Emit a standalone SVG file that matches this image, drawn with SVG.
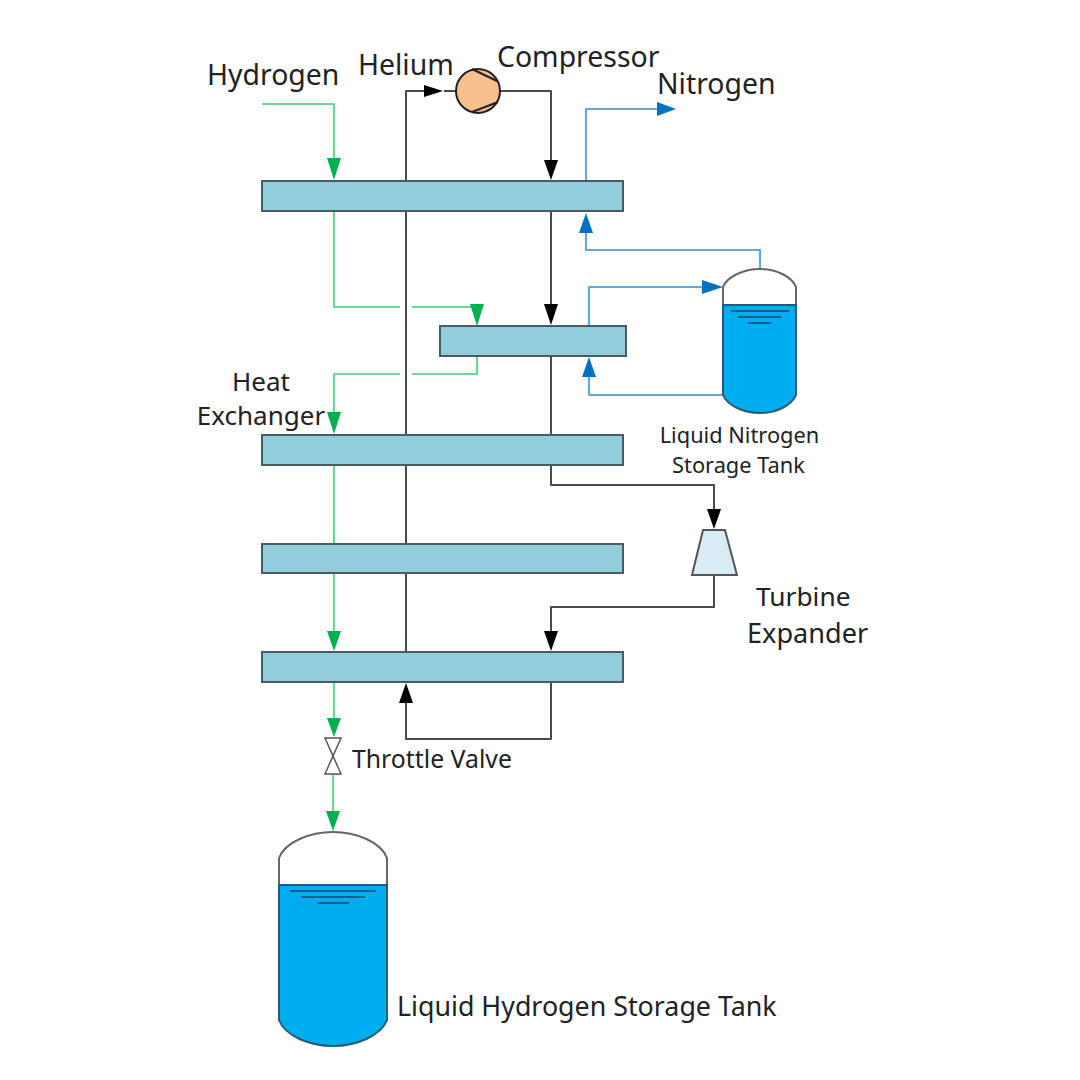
<svg xmlns="http://www.w3.org/2000/svg" width="1080" height="1080" viewBox="0 0 1080 1080">
<style>
text{font-family:"Noto Sans","Open Sans",sans-serif;fill:#222}
.w{fill:none;stroke-linejoin:round}
.k{stroke:#4a4a4a;stroke-width:2}
.g{stroke:#6fd39a;stroke-width:2.2}
.b{stroke:#62a8de;stroke-width:2.2}
.hx{fill:#92cddc;stroke:#4b5b62;stroke-width:2}
.tank{fill:#fff;stroke:#666;stroke-width:2}
.liq{fill:#00aeef;stroke:#2a5a72;stroke-width:2}
.lv{stroke:#0e5f8e;stroke-width:1.8}
.ak{fill:#000}.ag{fill:#00b050}.ab{fill:#0070c0}
</style>
<rect width="1080" height="1080" fill="#fff"/>
<g id="connectors">
<path class="w g" d="M262 104H334V165"/>
<path class="w g" d="M334 212V307H400M412 307H477V310"/>
<path class="w g" d="M477 356V374H412M400 374H334V418"/>
<path class="w g" d="M334 465V633"/>
<path class="w g" d="M334 683V720"/>
<path class="w g" d="M333 775V813"/>
<path class="w k" d="M406 181V91H426"/>
<path class="w k" d="M444 91H456"/>
<path class="w k" d="M500 91H551V160"/>
<path class="w k" d="M406 212V652"/>
<path class="w k" d="M551 212V305"/>
<path class="w k" d="M551 356V435"/>
<path class="w k" d="M551 465V485H714V510"/>
<path class="w k" d="M714 576V607H551V632"/>
<path class="w k" d="M551 683V739H406V700"/>
<path class="w b" d="M586 181V109H660"/>
<path class="w b" d="M586 230V250H760V269"/>
<path class="w b" d="M589 326V287H705"/>
<path class="w b" d="M589 375V395H723"/>
<polygon class="ag" points="327,158 341,158 334,180"/>
<polygon class="ag" points="470,304 484,304 477,326"/>
<polygon class="ag" points="327,412 341,412 334,434"/>
<polygon class="ag" points="327,631 341,631 334,651"/>
<polygon class="ag" points="327,718 341,718 334,737"/>
<polygon class="ag" points="326,811 340,811 333,831"/>
<polygon class="ak" points="424,85 424,97 443,91"/>
<polygon class="ak" points="544,160 558,160 551,180"/>
<polygon class="ak" points="544,304 558,304 551,325"/>
<polygon class="ak" points="707,509 721,509 714,529"/>
<polygon class="ak" points="544,631 558,631 551,651"/>
<polygon class="ak" points="399,703 413,703 406,683"/>
<polygon class="ab" points="657,102 657,116 676,109"/>
<polygon class="ab" points="579,233 593,233 586,213"/>
<polygon class="ab" points="702,280 702,294 723,287"/>
<polygon class="ab" points="582,377 596,377 589,357"/>
</g>
<g id="hx1"><rect class="hx" x="262" y="181" width="361" height="30"/></g>
<g id="hx2"><rect class="hx" x="440" y="326" width="186" height="30"/></g>
<g id="hx3"><rect class="hx" x="262" y="435" width="361" height="30"/></g>
<g id="hx4"><rect class="hx" x="262" y="544" width="361" height="29"/></g>
<g id="hx5"><rect class="hx" x="262" y="652" width="361" height="30"/></g>
<g id="compressor">
<circle cx="478" cy="91" r="22" fill="#f7c08f" stroke="#222" stroke-width="2"/>
<path d="M472 69L497 81M472 112L498 102" fill="none" stroke="#222" stroke-width="2"/>
</g>
<g id="turbine"><polygon points="703,530 725,530 737,575 692,575" fill="#d9ebf3" stroke="#555" stroke-width="2"/></g>
<g id="valve"><path d="M325 738H341L325 774H341Z" fill="#fff" stroke="#555" stroke-width="1.5"/></g>
<g id="nitrogen-tank">
<path class="tank" d="M723 305V287C727 277 743 269 760 269C777 269 792 277 796 287V305Z"/>
<path class="liq" d="M723 305H796V395C792 405 777 413 760 413C743 413 727 405 723 395Z"/>
<path class="lv" d="M731 311H789M738 317H781M748 323H771"/>
</g>
<g id="hydrogen-tank">
<path class="tank" d="M279 885V858C285 842 310 832 333 832C356 832 381 842 387 858V885Z"/>
<path class="liq" d="M279 885H387V1020C381 1036 356 1046 333 1046C310 1046 285 1036 279 1020Z"/>
<path class="lv" d="M290 891H376M301 897H365M317 903H349"/>
</g>
<g id="labels" font-size="28.4">
<text x="207" y="85">Hydrogen</text>
<text x="358" y="75">Helium</text>
<text x="497" y="67">Compressor</text>
<text x="657" y="94">Nitrogen</text>
<text x="261" y="391" text-anchor="middle" font-size="26">Heat</text>
<text x="261" y="425" text-anchor="middle" font-size="26">Exchanger</text>
<text x="739.5" y="443" text-anchor="middle" font-size="21.8">Liquid Nitrogen</text>
<text x="738.5" y="473" text-anchor="middle" font-size="21.8">Storage Tank</text>
<text x="756" y="606" font-size="26.3">Turbine</text>
<text x="747" y="643" font-size="27.1">Expander</text>
<text x="352" y="768" font-size="24.8">Throttle Valve</text>
<text x="397" y="1016" font-size="26.8">Liquid Hydrogen Storage Tank</text>
</g>
</svg>
